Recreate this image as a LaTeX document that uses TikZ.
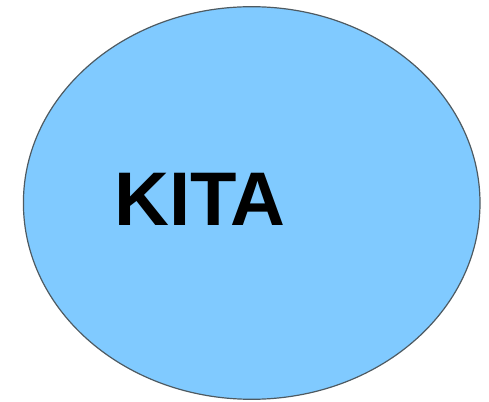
\documentclass[tikz,border=0pt]{standalone}
\usepackage{fontspec}
\setmainfont{Liberation Sans}
\usetikzlibrary{shapes.geometric}
\definecolor{kitafill}{HTML}{80CAFF}
\definecolor{kitaline}{HTML}{4E5A61}

\begin{document}
\begin{tikzpicture}[x=1pt,y=1pt]
  % Frame
  \useasboundingbox (0,0) rectangle (489,401);

  % Set
  \node [ellipse, draw=kitaline, fill=kitafill, line width=1.2pt,
    minimum width=456.6, minimum height=392.6, inner sep=0pt]
    (kita) at (251.7,198) {};
  \node [font=\fontsize{76}{80}\selectfont\bfseries, inner sep=0pt]
    (label) at (200,202) {KITA};
\end{tikzpicture}
\end{document}
